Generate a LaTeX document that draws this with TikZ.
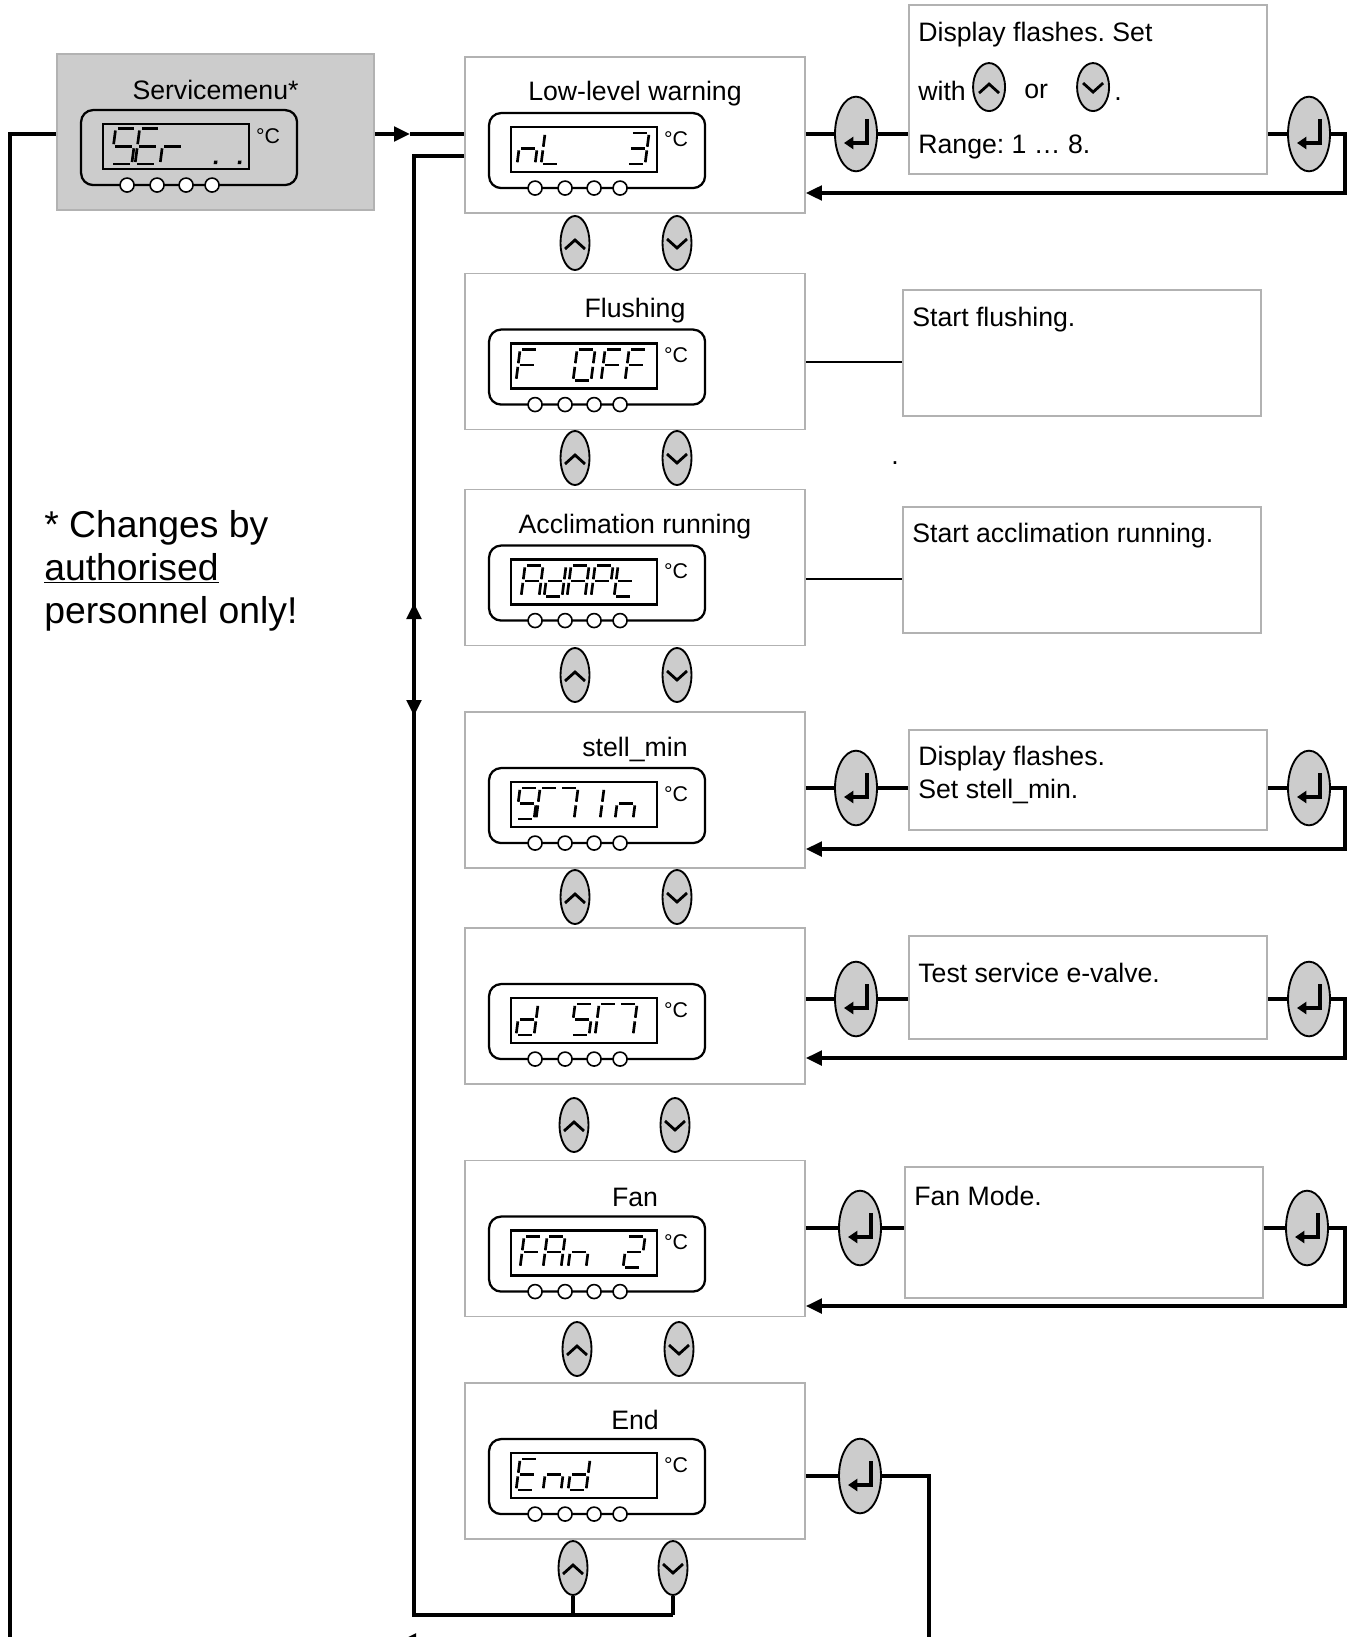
\documentclass[tikz,border=0pt]{standalone}
\usepackage{fontspec}
\setmainfont{Liberation Sans}
\usetikzlibrary{arrows.meta, calc, shapes.geometric}
\frenchspacing

% seven-segment strokes, local origin at the bottom left of a digit
\newcommand\lcdsega{\draw[lcdseg] (1.8,-31) -- (16.2,-31);}
\newcommand\lcdsegb{\draw[lcdseg] (18,-29.2) -- (18,-17.3);}
\newcommand\lcdsegc{\draw[lcdseg] (18,-13.7) -- (18,-1.8);}
\newcommand\lcdsegd{\draw[lcdseg] (1.8,0) -- (16.2,0);}
\newcommand\lcdsege{\draw[lcdseg] (0,-1.8) -- (0,-13.7);}
\newcommand\lcdsegf{\draw[lcdseg] (0,-17.3) -- (0,-29.2);}
\newcommand\lcdsegg{\draw[lcdseg] (1.8,-15.5) -- (16.2,-15.5);}
\newcommand\lcdsegp{\fill (20.5,-3) rectangle (23.5,0);}

% display panel inside a menu box: [#1 digit scale] #2 box, #3 list of offset/segments
\newcommand\lcdpanel[3][1]{%
  \node[lcdframe] (#2-lcd) at ($(#2.north west)+(133,94.5)$) {};
  \node[lcdwindow] (#2-win) at ($(#2.north west)+(120,93.5)$) {};
  \node[unitlabel] at ($(#2.north west)+(212,83)$) {°C};
  \foreach \kx in {71,101,130,156}
    \node[lcdled] at ($(#2.north west)+(\kx,132)$) {};
  \foreach \cx/\segs in {#3} {
    \begin{scope}[shift={($(#2.north west)+(47+\cx,{108+(#1-1)*20})$)}, xslant=0.13, scale=#1]
      \foreach \sg in \segs {\csname lcdseg\sg\endcsname}
    \end{scope}
  }
}

% keys
\newcommand\upkey[3][keybtn]{%
  \node[#1] (#2) at (#3) {};
  \draw[keymark] ($(#2)+(-10,6)$) -- ($(#2)+(0,-3)$) -- ($(#2)+(10,6)$);}
\newcommand\downkey[3][keybtn]{%
  \node[#1] (#2) at (#3) {};
  \draw[keymark] ($(#2)+(-10,-4)$) -- ($(#2)+(0,5)$) -- ($(#2)+(10,-4)$);}
\newcommand\enterkey[2]{%
  \node[enterbtn] (#1) at (#2) {};
  \draw[entermark] ($(#1)+(11,-15)$) -- ($(#1)+(11,9)$) -- ($(#1)+(-12,9)$);}

\begin{document}
\begin{tikzpicture}[
    x=0.75pt, y=-0.75pt,
    font=\fontsize{20}{24}\selectfont,
    wire/.style={line width=2.5pt},
    flow/.style={wire, -{Triangle[length=12pt,width=11pt]}},
    thinwire/.style={line width=1.1pt},
    menubox/.style={draw=gray!60, line width=1.4pt, minimum width=255pt, minimum height=117pt, inner sep=0pt},
    servicebox/.style={menubox, fill=gray!40, minimum width=237.75pt},
    infobox/.style={draw=gray!60, line width=1.4pt, minimum width=268.5pt, inner sep=0pt},
    boxtitle/.style={inner sep=0pt, yshift=-3pt},
    infotext/.style={anchor=west, inner sep=0pt, yshift=-3pt},
    lcdframe/.style={draw, line width=1.7pt, rounded corners=9pt, minimum width=162pt, minimum height=56.25pt, inner sep=0pt},
    lcdwindow/.style={draw, line width=1.7pt, minimum width=109.5pt, minimum height=33.75pt, inner sep=0pt},
    lcdled/.style={circle, draw, line width=1.2pt, fill=white, minimum size=10.5pt, inner sep=0pt},
    lcdseg/.style={line width=2pt},
    unitlabel/.style={font=\fontsize{16}{18}\selectfont, inner sep=0pt},
    keybtn/.style={ellipse, draw, line width=1.4pt, fill=gray!40, minimum width=21.75pt, minimum height=40.5pt, inner sep=0pt},
    inlinekey/.style={keybtn, minimum width=24pt, minimum height=36pt},
    enterbtn/.style={keybtn, minimum width=31.5pt, minimum height=56pt},
    keymark/.style={line width=2.1pt},
    entermark/.style={line width=2.4pt, -{Triangle[length=7pt,width=9pt]}},
    warnnote/.style={font=\fontsize{28}{32.25}\selectfont, align=left, inner sep=0pt, anchor=north west}
]
\useasboundingbox (0,0) rectangle (1353,1637);
\clip (0,0) rectangle (1353,1637);

% Menu boxes
\node[servicebox] (service) at (215.5,132) {};
\node[menubox] (lowlevel) at (635,135) {};
\node[menubox] (flushing) at (635,351.5) {};
\node[menubox] (acclim)   at (635,567.5) {};
\node[menubox] (stellmin) at (635,790) {};
\node[menubox] (dsm)      at (635,1006) {};
\node[menubox] (fan)      at (635,1238.5) {};
\node[menubox] (endbox)   at (635,1461) {};

\node[boxtitle] at ($(service.north)+(0,33)$)  {Servicemenu*};
\node[boxtitle] at ($(lowlevel.north)+(0,34)$) {Low-level warning};
\node[boxtitle] at ($(flushing.north)+(0,34)$) {Flushing};
\node[boxtitle] at ($(acclim.north)+(0,34)$)   {Acclimation running};
\node[boxtitle] at ($(stellmin.north)+(0,34)$) {stell\_min};
\node[boxtitle] at ($(fan.north)+(0,34)$)      {Fan};
\node[boxtitle] at ($(endbox.north)+(0,34)$)   {End};

% Displays
\lcdpanel[1.15]{service}{8/{a,f,g,c,d}, 32/{a,f,g,e,d}, 57/{e,g}, 87/{p}, 111/{p}}
\lcdpanel{lowlevel}{6/{e,g,c}, 30/{f,e,d}, 116/{a,b,g,c,d}}
\lcdpanel{flushing}{5/{a,f,g,e}, 62/{a,b,c,d,e,f}, 90/{a,f,g,e}, 114/{a,f,g,e}}
\lcdpanel{acclim}{10/{a,b,c,e,f,g}, 33/{b,c,d,e,g}, 56/{a,b,c,e,f,g}, 80/{a,b,e,f,g}, 103/{d,e,f,g}}
\lcdpanel{stellmin}{5/{a,c,d,f,g}, 25/{a,e,f}, 45/{a,b,c}, 71/{b,c}, 104/{c,e,g}}
\lcdpanel{dsm}{5/{b,c,d,e,g}, 60/{a,c,d,f,g}, 84/{a,e,f}, 104/{a,b,c}}
\lcdpanel{fan}{9/{a,e,f,g}, 32/{a,b,c,e,f,g}, 57/{c,e,g}, 112/{a,b,d,e,g}}
\lcdpanel{endbox}{5/{a,d,e,f,g}, 32/{c,e,g}, 57/{b,c,d,e,g}}

% Up/down keys below each box
\foreach \n/\ux/\dx/\ky in {1/575/677/243, 2/575/677/458, 3/575/677/675, 4/575/677/897,
                            5/574/675/1125, 6/577/679/1349, 7/573/673/1568} {
  \upkey{up\n}{\ux,\ky}
  \downkey{down\n}{\dx,\ky}
}

% Info boxes
\node[infobox, minimum height=126.75pt] (lowlevel-info) at (1088,89.5) {};
\node[infobox, minimum height=94.5pt]   (flushing-info) at (1082,353) {};
\node[infobox, minimum height=94.5pt]   (acclim-info)   at (1082,570) {};
\node[infobox, minimum height=75pt]     (stellmin-info) at (1088,780) {};
\node[infobox, minimum height=77.25pt]  (dsm-info)      at (1088,987.5) {};
\node[infobox, minimum height=98.25pt]  (fan-info)      at (1084,1232.5) {};

\node[infotext] at ($(lowlevel-info.north west)+(10,27)$) {Display flashes. Set};
\node[infotext] at ($(lowlevel-info.north west)+(10,83)$) {with};
\upkey[inlinekey]{inlineup}{$(lowlevel-info.north west)+(81,83)$}
\node[infotext] at ($(lowlevel-info.north west)+(116,83)$) {or};
\downkey[inlinekey]{inlinedown}{$(lowlevel-info.north west)+(185,83)$}
\node[infotext] at ($(lowlevel-info.north west)+(206,83)$) {\vphantom{with}.};
\node[infotext] at ($(lowlevel-info.north west)+(10,139)$) {Range: 1 … 8.};
\node[infotext] at ($(flushing-info.north west)+(10,27)$) {Start flushing.};
\node[infotext] at ($(acclim-info.north west)+(10,26)$) {Start acclimation running.};
\node[infotext] at ($(stellmin-info.north west)+(10,26)$) {Display flashes.};
\node[infotext] at ($(stellmin-info.north west)+(10,58)$) {Set stell\_min.};
\node[infotext] at ($(dsm-info.north west)+(10,34)$) {Test service e-valve.};
\node[infotext] at ($(fan-info.north west)+(10,26)$) {Fan Mode.};
\node[infotext] (straydot) at (891,451) {\vphantom{with}.};

% Note
\node[warnnote] (note) at (44,510) {* Changes by\\\underline{authorised}\\personnel only!};

% Entry into the menu
\coordinate (srvleft) at (10,134);
\coordinate (leftdrop) at (10,1645);
\coordinate (srvarrow) at (410,134);
\draw[wire] (service.west |- srvleft) -- (srvleft) -- (leftdrop);
\draw[flow] (service.east |- srvarrow) -- (srvarrow);
\draw[wire] (srvarrow) -- (lowlevel.west |- srvarrow);

% Return path from the last box
\coordinate (rettop)  at (414,156);
\coordinate (retup)   at (414,603);
\coordinate (retdown) at (414,716);
\coordinate (retbot)  at (414,1615);
\draw[flow] (lowlevel.west |- rettop) -- (rettop) -- (retdown);
\draw[wire] (retdown) -- (retbot) -- (down7 |- retbot);
\draw[flow] (retbot) -- (retup);
\draw[wire] (up7) -- (up7 |- retbot);
\draw[wire] (down7) -- (down7 |- retbot);

% Enter loops
\foreach \bx/\ky/\ry/\ka/\kb in {lowlevel/134/193/856/1309, stellmin/788/849/856/1309,
                                 dsm/999/1058/856/1309, fan/1228/1306/860/1307} {
  \enterkey{\bx-key}{\ka,\ky}
  \enterkey{\bx-back}{\kb,\ky}
  \coordinate (\bx-ret) at (1345,\ry);
  \draw[wire] (\bx.east |- \bx-key) -- (\bx-key);
  \draw[wire] (\bx-key) -- (\bx-key -| \bx-info.west);
  \draw[wire] (\bx-back -| \bx-info.east) -- (\bx-back);
  \draw[flow] (\bx-back.east) -| (\bx-ret) -- (\bx-ret -| \bx.east);
}

% Plain links
\draw[thinwire] ($(flushing.east)+(0,10.5)$) coordinate (flushlink) -- (flushlink -| flushing-info.west);
\draw[thinwire] ($(acclim.east)+(0,11.5)$) coordinate (accllink) -- (accllink -| acclim-info.west);

% Leaving the menu
\enterkey{endbox-key}{860,1476}
\coordinate (endcorner) at (929,1476);
\coordinate (endexit) at (400,1641);
\draw[wire] (endbox.east |- endbox-key) -- (endbox-key);
\draw[flow] (endbox-key) -- (endcorner) |- (endexit);

\end{tikzpicture}
\end{document}
